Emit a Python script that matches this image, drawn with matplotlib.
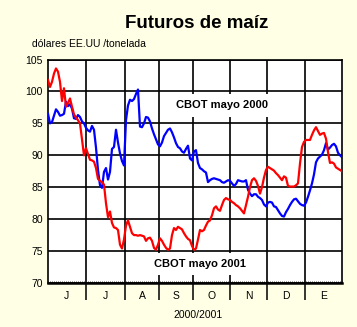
import numpy as np
import matplotlib.pyplot as plt
import matplotlib.transforms as mtransforms

plt.rcParams['font.family'] = ['Liberation Sans', 'DejaVu Sans']

# precios diarios (dolares EE.UU./tonelada), junio 2000 - enero 2001
mayo_2000 = [96.5, 95.0, 95.2, 96.2, 97.2, 96.8, 96.2, 96.3, 96.5, 98.4,
             97.7, 98.0, 97.3, 95.8, 95.7, 96.3, 96.0, 95.3, 95.0, 94.3,
             93.9, 93.7, 94.6, 94.0, 91.2, 87.7, 85.3, 84.9, 87.4, 88.0,
             86.2, 87.4, 91.0, 91.3, 94.0, 92.0, 90.3, 89.1, 88.4, 95.5,
             97.8, 98.7, 98.5, 98.8, 99.6, 100.3, 94.5, 94.4, 95.0, 96.0,
             95.9, 95.3, 94.2, 93.3, 92.5, 91.7, 91.4, 92.0, 93.0, 93.5,
             94.0, 94.2, 93.6, 92.8, 91.9, 91.3, 91.1, 90.6, 90.4, 91.0,
             91.5, 89.5, 89.2, 90.6, 90.8, 88.8, 88.0, 87.8, 87.5, 87.3,
             85.8, 86.1, 86.3, 86.4, 86.3, 86.2, 86.1, 85.8, 85.7, 85.9,
             86.1, 86.0, 85.6, 85.2, 85.5, 86.1, 86.0, 85.9, 85.9, 86.1,
             84.6, 84.0, 83.6, 83.9, 83.9, 83.5, 83.3, 83.0, 82.3, 82.0,
             82.6, 82.7, 82.6, 82.0, 81.9, 81.4, 80.9, 80.5, 80.4, 81.1,
             81.6, 82.2, 82.7, 83.1, 83.2, 82.8, 82.4, 82.2, 82.1, 82.6,
             83.5, 84.5, 85.6, 87.0, 88.9, 89.5, 89.8, 90.1, 90.8, 91.9,
             90.9, 91.2, 91.6, 91.8, 91.4, 90.4, 90.0, 89.7]

mayo_2001 = [101.8, 100.7, 101.5, 102.8, 103.6, 103.1, 101.5, 98.5, 100.5, 97.6,
             98.2, 98.9, 97.6, 96.4, 95.9, 95.5, 95.0, 92.5, 90.0, 91.1,
             90.2, 89.3, 89.2, 89.0, 88.0, 86.3, 86.0, 85.8, 85.4, 82.5,
             80.3, 81.2, 79.4, 78.7, 78.6, 78.3, 76.0, 75.4, 76.8, 79.0,
             79.8, 78.8, 77.8, 77.5, 77.5, 77.4, 77.5, 77.4, 77.3, 76.6,
             77.0, 77.1, 76.6, 75.5, 75.2, 76.0, 77.0, 76.6, 76.0, 75.5,
             75.2, 75.4, 77.5, 78.6, 78.3, 78.8, 78.6, 78.4, 77.8, 77.3,
             76.9, 76.7, 75.8, 75.2, 75.4, 76.8, 78.3, 78.1, 78.3, 79.0,
             79.6, 79.8, 80.6, 81.7, 82.0, 81.5, 81.3, 82.2, 83.0, 83.3,
             83.1, 83.0, 82.7, 82.5, 82.2, 82.0, 81.7, 81.3, 80.9, 82.2,
             83.5, 85.0, 86.1, 86.4, 86.0, 85.2, 84.0, 85.0, 86.5, 87.7,
             88.2, 88.0, 87.8, 87.6, 87.2, 86.9, 86.5, 86.1, 86.7, 86.5,
             85.2, 85.1, 85.1, 85.1, 85.3, 85.6, 88.7, 91.3, 92.1, 92.4,
             92.4, 92.4, 93.2, 93.9, 94.4, 93.8, 93.2, 93.4, 93.5, 92.6,
             90.5, 88.8, 88.9, 88.7, 88.1, 87.9, 87.7, 87.5]

meses = ['J', 'J', 'A', 'S', 'O', 'N', 'D', 'E']
# cambio de mes, en sesiones desde el inicio
cortes = [19, 38.65, 55.35, 72.65, 91.15, 109.35, 128.65]

fondo = '#FFFFE6'
fig = plt.figure(figsize=(3.57, 3.27), dpi=100, facecolor=fondo)
ax = fig.add_axes([0.1336, 0.1346, 0.8252, 0.6834])
ax.set_facecolor('white')

n = len(mayo_2000)
x = np.arange(n)
ax.plot(x, mayo_2000, color='#0000FF', lw=1.6, zorder=3)
ax.plot(np.arange(len(mayo_2001)), mayo_2001, color='#FF0000', lw=1.6, zorder=3)

x0, x1 = -0.15, n - 1 + 0.15
ax.set_xlim(x0, x1)
ax.set_ylim(70, 105)
ax.set_yticks(np.arange(70, 106, 5))
ax.tick_params(axis='y', length=0, pad=3.6, labelsize=7.5)

# separadores de mes: lineas de rejilla que bajan bajo el eje
ax.set_xticks(cortes)
ax.set_xticklabels([])
ax.set_xticks(x, minor=True)
ax.tick_params(axis='x', which='major', length=12, width=1.1, direction='out')
ax.tick_params(axis='x', which='minor', length=1.5, width=0.5, direction='in')

ax.set_axisbelow(True)
ax.grid(True, which='major', color='black', lw=1.2)
for s in ax.spines.values():
    s.set_linewidth(1.2)
ax.spines['bottom'].set_linewidth(1.8)

bordes = [x0] + cortes + [x1]
trans = mtransforms.blended_transform_factory(ax.transData, ax.transAxes)
for i, m in enumerate(meses):
    ax.text((bordes[i] + bordes[i + 1]) / 2, -0.058, m, transform=trans,
            ha='center', va='center', fontsize=7.5)

caja = dict(boxstyle='square,pad=0.55', fc='white', ec='none')
ax.text(87.2, 97.8, 'CBOT mayo 2000', ha='center', va='center',
        fontsize=8, fontweight='bold', bbox=caja, zorder=2)
ax.text(76.0, 73.0, 'CBOT mayo 2001', ha='center', va='center',
        fontsize=8, fontweight='bold', bbox=caja, zorder=2)

fig.text(196.7 / 357, 1 - 28.3 / 327, 'Futuros de maíz', ha='center',
         va='baseline', fontsize=13.5, fontweight='bold')
fig.text(32 / 357, 1 - 46.7 / 327, 'dólares EE.UU /tonelada', ha='left',
         va='baseline', fontsize=7.5)
fig.text(198.3 / 357, 1 - 315 / 327, '2000/2001', ha='center',
         va='center', fontsize=7.5)

fig.savefig('out.png', dpi=100, facecolor=fondo)
